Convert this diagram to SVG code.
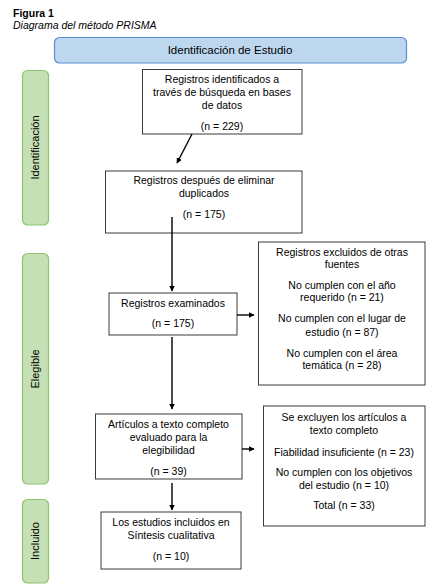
<svg xmlns="http://www.w3.org/2000/svg" width="438" height="587" viewBox="0 0 438 587">
<style>
text{font-family:"Liberation Sans",Arial,sans-serif;fill:#000;stroke:none}
.t{font-size:10.5px;text-anchor:middle}
.box{fill:#fff;stroke:#3a3a3a;stroke-width:1}
.side rect{fill:#C5E0B4;stroke:#8CC56E;stroke-width:1.2}
.side text{font-size:11px;text-anchor:middle}
.conn line{stroke:#000;stroke-width:1.4;marker-end:url(#ah)}
</style>
<defs>
<marker id="ah" viewBox="0 0 10 10" refX="9" refY="5" markerWidth="4" markerHeight="4" orient="auto" markerUnits="strokeWidth">
<path d="M0,0L10,5L0,10z" fill="#000"/>
</marker>
</defs>
<g id="caption">
<text x="13" y="17" style="font-size:10.5px;font-weight:bold">Figura 1</text>
<text x="13" y="29" style="font-size:10.5px;font-style:italic">Diagrama del método PRISMA</text>
</g>
<g id="header">
<rect x="54.5" y="37.5" width="352" height="25.5" rx="5" fill="#BDD7EE" stroke="#5B8FD5" stroke-width="1.2"/>
<text x="230" y="54" style="font-size:11.5px;text-anchor:middle">Identificación de Estudio</text>
</g>
<g id="side-identificacion" class="side">
<rect x="22.5" y="70.5" width="26" height="154.5" rx="5"/>
<text transform="translate(39,147.5) rotate(-90)">Identificación</text>
</g>
<g id="side-elegible" class="side">
<rect x="22.5" y="253.5" width="26" height="230.5" rx="5"/>
<text transform="translate(39,369) rotate(-90)">Elegible</text>
</g>
<g id="side-incluido" class="side">
<rect x="22.5" y="499.5" width="26" height="83.5" rx="5"/>
<text transform="translate(39,541) rotate(-90)">Incluido</text>
</g>
<g id="n1">
<rect class="box" x="142.5" y="69.5" width="159.5" height="64.5"/>
<text class="t" x="222" y="83">Registros identificados a</text>
<text class="t" x="222" y="96">través de búsqueda en bases</text>
<text class="t" x="222" y="108.5">de datos</text>
<text class="t" x="222" y="129.5">(n = 229)</text>
</g>
<g id="n2">
<rect class="box" x="105.5" y="171" width="196.5" height="62"/>
<text class="t" x="204" y="184">Registros después de eliminar</text>
<text class="t" x="204" y="197">duplicados</text>
<text class="t" x="204" y="218">(n = 175)</text>
</g>
<g id="n3">
<rect class="box" x="109" y="293" width="128" height="42"/>
<text class="t" x="173" y="307">Registros examinados</text>
<text class="t" x="173" y="327">(n = 175)</text>
</g>
<g id="n4">
<rect class="box" x="258.5" y="242" width="166.5" height="143"/>
<text class="t" x="342" y="256">Registros excluidos de otras</text>
<text class="t" x="342" y="268">fuentes</text>
<text class="t" x="342" y="289">No cumplen con el año</text>
<text class="t" x="342" y="301">requerido (n = 21)</text>
<text class="t" x="342" y="322">No cumplen con el lugar de</text>
<text class="t" x="342" y="335.5">estudio (n = 87)</text>
<text class="t" x="342" y="357">No cumplen con el área</text>
<text class="t" x="342" y="369">temática (n = 28)</text>
</g>
<g id="n5">
<rect class="box" x="95.5" y="414" width="146.5" height="65"/>
<text class="t" x="168.5" y="428">Artículos a texto completo</text>
<text class="t" x="168.5" y="441">evaluado para la</text>
<text class="t" x="168.5" y="454">elegibilidad</text>
<text class="t" x="168.5" y="475">(n = 39)</text>
</g>
<g id="n6">
<rect class="box" x="263.5" y="406" width="161.5" height="120"/>
<text class="t" x="344" y="421">Se excluyen los artículos a</text>
<text class="t" x="344" y="434">texto completo</text>
<text class="t" x="344" y="456">Fiabilidad insuficiente (n = 23)</text>
<text class="t" x="344" y="476">No cumplen con los objetivos</text>
<text class="t" x="344" y="489">del estudio (n = 10)</text>
<text class="t" x="344" y="509">Total (n = 33)</text>
</g>
<g id="n7">
<rect class="box" x="101" y="512" width="140" height="57"/>
<text class="t" x="171" y="526">Los estudios incluidos en</text>
<text class="t" x="171" y="539">Síntesis cualitativa</text>
<text class="t" x="171" y="560">(n = 10)</text>
</g>
<g id="connectors" class="conn">
<line x1="192" y1="134" x2="177" y2="163"/>
<line x1="172" y1="217" x2="172" y2="291"/>
<line x1="237" y1="315" x2="254" y2="315"/>
<line x1="172" y1="337" x2="172" y2="409"/>
<line x1="242" y1="449" x2="254" y2="449"/>
<line x1="172" y1="483" x2="172" y2="510"/>
</g>
</svg>
